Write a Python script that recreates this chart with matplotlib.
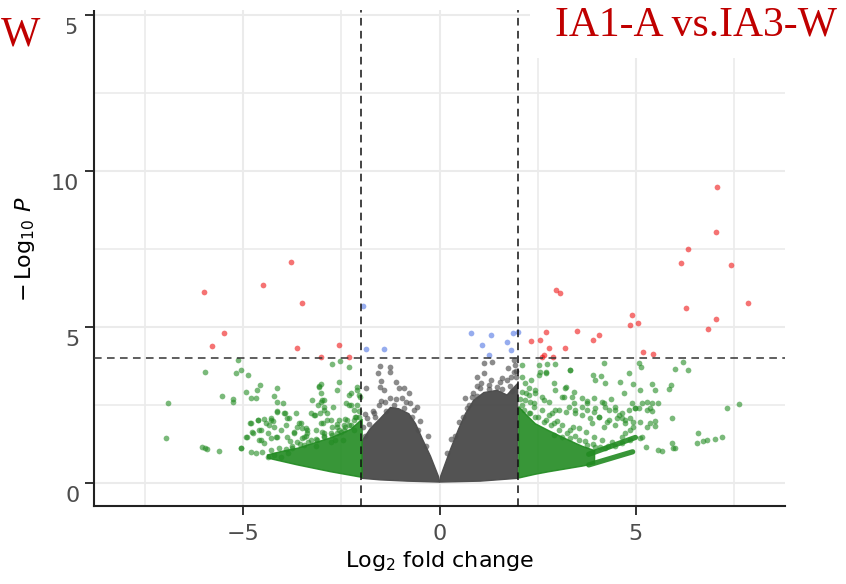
import matplotlib
matplotlib.use('Agg')
import matplotlib.pyplot as plt
from matplotlib.patches import Polygon, Rectangle
from matplotlib.ticker import FixedLocator
import matplotlib.transforms as mtransforms

plt.rcParams['font.family'] = ['DejaVu Sans']
plt.rcParams['mathtext.fontset'] = 'dejavusans'
plt.rcParams['axes.unicode_minus'] = True

# ---------------- data ----------------
title_text = "IA1-A vs.IA3-W"
left_fragment = "W"
fc_cutoff = 2.0
p_cutoff = 4.0
x_ticks = [-5, 0, 5]
x_ticklabels = ["\u22125", "0", "5"]
y_ticks = [0, 5, 10, 15]
y_ticklabels = ["0", "5", "10", "15"]

# significant by both (red)
red_x = [-3.79, -5.99, -4.50, -3.49, -5.50, -5.79, -3.63, -2.55, -3.03, -2.31,
         7.07, 7.04, 6.32, 6.16, 7.43, 7.86, 6.28, 7.04, 6.85, 2.96, 3.07, 4.90,
         4.84, 5.05, 2.72, 3.51, 2.55, 2.32, 3.91, 4.06, 2.80, 3.19, 2.65, 2.60,
         2.88, 5.19, 5.45]
red_y = [7.09, 6.11, 6.34, 5.77, 4.80, 4.39, 4.34, 4.41, 4.05, 4.03,
         9.49, 8.04, 7.49, 7.06, 6.99, 5.78, 5.60, 5.27, 4.94, 6.18, 6.08, 5.37,
         5.05, 5.12, 4.83, 4.86, 4.57, 4.55, 4.58, 4.73, 4.34, 4.33, 4.10, 4.05,
         4.05, 4.19, 4.15]

# significant by p only (blue)
blue_x = [-1.95, -1.87, -1.42, 0.81, 1.31, 1.09, 1.72, 1.82, 1.26, 1.87, 1.99]
blue_y = [5.67, 4.28, 4.28, 4.82, 4.74, 4.42, 4.51, 4.25, 4.10, 4.80, 4.83]

# fold change only (green), isolated points, left side
green_left_x = [-6.91, -6.97, -6.04, -5.97, -5.91, -5.62, -5.97, -5.55, -5.26, -5.26,
                -5.19, -5.05, -4.88, -5.13, -5.06, -4.92, -4.81, -4.68, -4.66, -4.57,
                -4.83, -4.91, -4.77, -4.62, -4.60, -4.55, -4.15, -4.22, -4.13, -3.98,
                -4.15, -3.94, -3.88, -3.65, -4.43, -4.30, -4.22, -4.38, -4.13, -3.88,
                -3.71, -3.49, -3.45, -3.58, -3.24, -3.16, -3.07, -3.01, -3.03, -2.94,
                -2.94, -2.86, -2.98, -2.70, -2.56, -2.73, -2.54, -2.31, -2.56, -2.44,
                -2.31, -2.26, -2.18, -2.14, -2.09, -2.03, -2.77, -2.65, -2.52, -3.37,
                -3.11, -2.60, -2.35, -2.18, -2.94,
                -4.81, -4.62, -4.47, -4.30, -4.23, -4.34, -4.55, -4.76, -4.94, -5.06,
                -4.13, -3.96, -3.83, -3.92, -4.04, -4.17, -4.30, -4.47, -4.60,
                -4.81, -4.68, -4.51, -4.38, -4.21, -4.04,
                -3.70, -3.62, -3.54, -3.41, -3.28, -3.20, -3.05, -3.10, -2.99, -3.03,
                -3.07, -2.94, -2.86, -2.77, -2.73, -3.03, -3.15, -3.37, -3.49,
                -2.60, -2.30, -2.39, -2.26, -2.09, -2.05,
                -2.60, -2.43, -2.30, -2.18, -2.05, -2.47, -2.77, -2.94,
                -3.28, -3.15, -3.45, -3.62, -3.75, -3.87,
                -4.30, -4.10, -3.90, -3.75, -3.55, -3.35, -3.15, -2.95, -2.75, -2.55,
                -2.40, -2.25, -2.12, -2.05, -2.10, -3.80, -3.40, -3.00, -2.60, -2.40]
green_left_y = [2.55, 1.43, 1.14, 1.12, 1.10, 1.03, 3.56, 2.80, 2.68, 2.61,
                3.52, 3.62, 3.46, 3.94, 1.13, 2.91, 2.73, 2.73, 2.98, 3.14,
                1.93, 1.48, 1.64, 2.02, 1.70, 1.38, 3.06, 2.79, 2.61, 2.55,
                2.32, 2.25, 2.07, 2.25, 1.91, 2.02, 1.80, 1.59, 1.48, 1.48,
                1.64, 1.75, 1.48, 1.91, 2.66, 2.18, 3.09, 3.17, 2.61, 2.66,
                2.34, 2.02, 1.91, 2.45, 3.25, 3.80, 3.91, 3.73, 2.02, 1.86,
                2.50, 2.87, 2.34, 2.13, 2.98, 2.77, 1.59, 1.38, 1.64, 1.70,
                1.38, 1.80, 2.02, 1.70, 1.59,
                1.91, 2.02, 2.04, 2.07, 2.00, 1.86, 1.70, 1.59, 1.48, 1.11,
                2.29, 2.23, 2.07, 1.86, 1.70, 1.48, 1.43, 1.27, 1.38,
                1.00, 0.95, 1.00, 0.84, 0.90, 0.84,
                1.59, 1.80, 1.91, 1.75, 2.23, 2.18, 2.23, 2.50, 2.66, 2.87,
                3.11, 2.45, 2.23, 2.02, 1.80, 1.91, 1.70, 1.59, 1.43,
                2.98, 2.82, 2.55, 2.50, 3.09, 2.82,
                1.59, 1.70, 1.86, 2.02, 2.13, 1.38, 1.33, 1.48,
                1.38, 1.17, 1.22, 1.33, 1.11, 0.95,
                1.05, 1.12, 1.10, 1.20, 1.25, 1.30, 1.40, 1.50, 1.55, 1.70,
                1.78, 1.85, 2.10, 2.30, 2.50, 1.35, 1.50, 1.62, 1.90, 2.05]

# fold change only (green), isolated points, right side
green_right_x = [2.10, 2.53, 2.74, 2.94, 2.70, 3.32, 4.20, 3.91, 4.12, 3.97, 4.21, 4.82,
                 5.07, 5.13, 6.20, 6.34, 5.99, 4.60, 4.94, 5.11, 5.41, 5.48, 5.84, 5.89,
                 4.69, 4.90, 4.99, 5.07, 5.28, 5.41, 5.56, 5.37, 5.41, 5.92, 5.49, 5.37,
                 5.48, 5.28, 5.11, 6.58, 6.72, 6.81, 7.02, 7.19, 6.56, 7.33, 7.62, 5.27,
                 5.56, 5.67, 5.94, 5.99, 5.92, 3.20, 3.42, 3.76, 3.94, 4.14, 4.37, 4.22,
                 4.47, 4.56, 4.65, 4.73, 4.82, 4.94, 2.91, 3.12, 3.38, 3.63, 3.76, 3.94,
                 4.06, 4.31, 4.47, 4.18, 3.88, 2.44, 2.27, 2.66, 2.95, 3.21, 3.46, 2.78,
                 2.19, 2.10, 2.32, 2.53, 4.86, 4.73, 4.65,
                 2.57, 2.70, 3.33, 2.10, 2.27, 2.44, 2.19, 2.40, 2.61, 2.78, 2.95, 3.21,
                 3.16, 3.42, 3.63,
                 3.76, 3.97, 4.18, 4.31, 4.48, 4.65, 4.86, 4.99, 5.16, 5.28, 4.52, 4.73,
                 4.94, 5.11, 4.27, 4.05, 3.84, 3.63, 3.46, 3.29, 3.04, 2.87,
                 5.16, 4.86, 4.65, 4.39, 4.14, 3.93, 3.72, 3.55, 3.33, 3.12, 2.91, 2.70,
                 2.44, 2.27, 3.97, 3.76, 3.55, 3.33, 3.12, 2.91, 4.22, 4.48,
                 2.10, 2.05, 2.15, 2.30, 2.50, 2.65, 2.85, 3.05, 3.25, 3.45, 3.70, 3.90,
                 4.10, 4.30, 2.30, 2.60, 3.00, 3.40, 2.20, 2.40]
green_right_y = [3.78, 3.78, 3.83, 3.83, 3.55, 3.62, 3.86, 3.47, 3.43, 3.30, 3.22, 3.51,
                 3.86, 3.73, 3.89, 3.62, 3.64, 3.25, 3.17, 2.98, 3.17, 2.98, 3.00, 3.14,
                 2.87, 2.57, 2.39, 2.39, 2.61, 2.57, 2.55, 2.39, 2.31, 2.07, 1.98, 1.91,
                 1.83, 1.78, 1.43, 1.61, 1.36, 1.38, 1.42, 1.46, 1.27, 2.39, 2.53, 1.16,
                 1.06, 1.03, 1.11, 1.11, 1.29, 3.03, 2.55, 2.63, 2.71, 2.61, 2.68, 2.43,
                 2.34, 2.18, 2.07, 2.02, 2.34, 1.96, 3.19, 2.77, 2.77, 2.45, 2.34, 2.29,
                 2.13, 2.02, 1.86, 1.80, 1.91, 2.98, 2.82, 2.66, 2.34, 2.29, 2.23, 2.18,
                 3.19, 3.41, 3.30, 3.46, 1.70, 1.59, 1.49,
                 3.57, 3.52, 3.62, 2.93, 3.03, 2.87, 2.66, 2.55, 2.77, 2.61, 2.98, 3.09,
                 2.77, 2.93, 2.71,
                 2.55, 2.39, 2.55, 2.34, 2.45, 2.23, 2.07, 2.39, 2.55, 2.34, 2.07, 1.91,
                 1.80, 1.97, 1.97, 2.13, 2.07, 2.18, 2.34, 2.45, 2.34, 2.23,
                 1.48, 1.38, 1.27, 1.32, 1.38, 1.48, 1.64, 1.75, 1.70, 1.86, 1.91, 2.02,
                 2.13, 2.23, 1.16, 1.22, 1.38, 1.43, 1.48, 1.54, 1.11, 1.18,
                 2.50, 2.70, 2.35, 2.25, 2.10, 1.95, 1.85, 1.70, 1.60, 1.50, 1.35, 1.25,
                 1.15, 1.20, 2.60, 2.35, 2.00, 1.80, 2.90, 2.45]

# not significant (grey), isolated points around the dense cloud
grey_x = [-1.52, -1.26, -1.57, -1.25, -1.48, -1.12, -1.86, -1.52, -1.42, -1.04,
          -0.91, -0.78, -1.25, -0.95, -1.50, -0.74, -0.57, -1.67, -1.84,
          -1.90, -1.80, -1.65, -1.35, -1.15, -0.90, -0.70, -0.55, -0.35,
          -1.95, -1.90, -1.70, -1.55, -1.40, -1.10, -0.85, -0.65, -0.50, -0.30,
          1.13, 1.34, 1.89, 0.96, 1.13, 1.55, 1.72, 1.89, 1.93, 1.25, 0.66, 1.04,
          1.81, 0.83, 1.47, 0.20, 0.40, 0.60, 0.75, 0.95, 1.25, 1.60, 1.85, 1.95,
          0.30, 0.50, 0.70, 0.85, 1.05, 1.30, 1.60, 1.80, 1.95, 1.75, 0.95]
grey_y = [3.76, 3.73, 3.54, 3.55, 3.28, 3.25, 3.03, 3.09, 2.98, 3.03,
          3.03, 2.87, 2.71, 2.71, 2.64, 2.55, 2.45, 2.23, 2.07,
          1.50, 1.90, 2.10, 2.30, 2.50, 2.40, 2.10, 1.70, 1.20,
          1.80, 2.20, 2.30, 2.50, 2.60, 2.70, 2.60, 2.35, 2.00, 1.50,
          3.84, 3.89, 3.94, 3.41, 3.52, 3.25, 3.30, 3.57, 3.78, 3.14, 2.71, 3.03,
          3.41, 2.77, 3.09, 0.95, 1.50, 2.10, 2.50, 2.80, 3.00, 3.00, 2.95, 3.40,
          1.40, 1.95, 2.40, 2.90, 3.20, 3.30, 3.35, 3.10, 3.60, 3.70, 3.10]

# outlines of the densely overplotted regions
grey_dense_left = [(-1.97, 0.15), (-1.97, 1.35), (-1.76, 1.75), (-1.50, 2.08),
                   (-1.25, 2.42), (-1.04, 2.38), (-0.78, 2.22), (-0.61, 1.90),
                   (-0.44, 1.42), (-0.23, 0.86), (-0.03, 0.22), (0.0, 0.03),
                   (-0.82, 0.06), (-1.50, 0.10)]
grey_dense_right = [(0.03, 0.22), (0.28, 1.08), (0.49, 1.74), (0.66, 2.22),
                    (0.87, 2.65), (1.13, 2.90), (1.47, 2.97), (1.72, 2.82),
                    (1.99, 3.19), (1.99, 0.15), (1.04, 0.06), (0.0, 0.03)]
green_dense_left = [(-1.97, 0.18), (-2.77, 0.36), (-3.62, 0.58), (-4.38, 0.80),
                    (-4.38, 0.90), (-4.0, 1.02), (-3.6, 1.12), (-3.2, 1.28),
                    (-2.77, 1.45), (-2.26, 1.72), (-1.97, 2.05)]
green_dense_right = [(2.02, 0.16), (2.02, 2.45), (2.2, 2.2), (2.44, 1.9),
                     (2.78, 1.68), (3.21, 1.42), (3.63, 1.18), (3.95, 1.04),
                     (3.95, 0.62), (3.63, 0.54), (2.78, 0.36), (2.44, 0.28)]
green_streak_upper_x = [3.8, 4.99]
green_streak_upper_y = [0.92, 1.46]
green_streak_lower_x = [3.8, 4.92]
green_streak_lower_y = [0.58, 1.00]

# ---------------- figure ----------------
W, H = 846, 584
fig = plt.figure(figsize=(W / 100, H / 100), dpi=100)
ax_left_px, ax_right_px = 94, 785
ax_bottom_px, ax_top_px = 506.4, -8.4
ax = fig.add_axes([ax_left_px / W, 1 - ax_bottom_px / H,
                   (ax_right_px - ax_left_px) / W, (ax_bottom_px - ax_top_px) / H])
ax.set_xlim(-8.8, 8.8)
ax.set_ylim(-0.75, 15.75)

grid_c = '#ebebeb'
ax.xaxis.set_major_locator(FixedLocator(x_ticks))
ax.xaxis.set_minor_locator(FixedLocator([-7.5, -2.5, 2.5, 7.5]))
ax.yaxis.set_major_locator(FixedLocator(y_ticks))
ax.yaxis.set_minor_locator(FixedLocator([2.5, 7.5, 12.5]))
ax.grid(which='major', color=grid_c, linewidth=1.5, zorder=0)
ax.grid(which='minor', color=grid_c, linewidth=1.2, zorder=0)
ax.set_axisbelow(True)

for s in ['top', 'right']:
    ax.spines[s].set_visible(False)
for s in ['left', 'bottom']:
    ax.spines[s].set_color('#222222')
    ax.spines[s].set_linewidth(1.5)

ax.tick_params(which='major', length=6.5, width=1.4, color='#333333',
               labelsize=16, labelcolor='#4d4d4d')
ax.tick_params(axis='x', which='major', pad=6)
ax.tick_params(axis='y', which='major', pad=4)
ax.tick_params(which='minor', length=0)
ax.set_xticklabels(x_ticklabels)
ax.set_yticklabels(y_ticklabels)

grey_c = '#4d4d4d'
green_c = '#228B22'
for poly in (grey_dense_left, grey_dense_right):
    ax.add_patch(Polygon(poly, closed=True, facecolor=grey_c, edgecolor=grey_c,
                         linewidth=1.0, alpha=0.97, zorder=2))
for poly in (green_dense_left, green_dense_right):
    ax.add_patch(Polygon(poly, closed=True, facecolor=green_c, edgecolor=green_c,
                         linewidth=1.0, alpha=0.9, zorder=2))
ax.plot(green_streak_upper_x, green_streak_upper_y, color=green_c, lw=3.8,
        alpha=0.9, solid_capstyle='round', zorder=2)
ax.plot(green_streak_lower_x, green_streak_lower_y, color=green_c, lw=3.8,
        alpha=0.9, solid_capstyle='round', zorder=2)

ms = 17
ax.scatter(grey_x, grey_y, s=ms, color=grey_c, alpha=0.65, linewidths=0, zorder=3)
ax.scatter(green_left_x, green_left_y, s=ms, color=green_c, alpha=0.6,
           linewidths=0, zorder=3)
ax.scatter(green_right_x, green_right_y, s=ms, color=green_c, alpha=0.6,
           linewidths=0, zorder=3)
ax.scatter(blue_x, blue_y, s=ms, color='#4169E1', alpha=0.55, linewidths=0, zorder=3)
ax.scatter(red_x, red_y, s=ms, color='#EE0000', alpha=0.55, linewidths=0, zorder=3)

for xv in (-fc_cutoff, fc_cutoff):
    ax.axvline(xv, color='#111111', lw=1.1, ls=(0, (5, 3.5)), zorder=4)
ax.axhline(p_cutoff, color='#333333', lw=1.1, ls=(0, (5, 3.5)), zorder=4)

ax.set_xlabel(r'Log$_{2}$ fold change', fontsize=16, color='black', labelpad=4)
ax.set_ylabel(r'$-\,$Log$_{10}$ $\mathit{P}$', fontsize=16, color='black', labelpad=10)

# y tick labels sit a little below their ticks in the original
off = mtransforms.ScaledTranslation(0, -8 / 72, fig.dpi_scale_trans)
for lab in ax.get_yticklabels():
    lab.set_transform(lab.get_transform() + off)

# white overlays present in the original screenshot
fig.patches.append(Rectangle((0, 1 - 10 / H), 1, 10 / H, transform=fig.transFigure,
                             facecolor='white', edgecolor='none', zorder=5))
fig.patches.append(Rectangle((0, 1 - 50 / H), 67 / W, 50 / H, transform=fig.transFigure,
                             facecolor='white', edgecolor='none', zorder=5))
fig.patches.append(Rectangle((530 / W, 1 - 58 / H), (W - 530) / W, 58 / H,
                             transform=fig.transFigure,
                             facecolor='white', edgecolor='none', zorder=5))

red_title = '#C00000'
fig.text(837 / W, 1 - 36 / H, title_text, ha='right', va='baseline', fontsize=30,
         family='Liberation Serif', color=red_title, zorder=6)
fig.text(1 / W, 1 - 45 / H, left_fragment, ha='left', va='baseline', fontsize=30,
         family='Liberation Serif', color=red_title, zorder=6)

fig.savefig('out.png', dpi=100)
